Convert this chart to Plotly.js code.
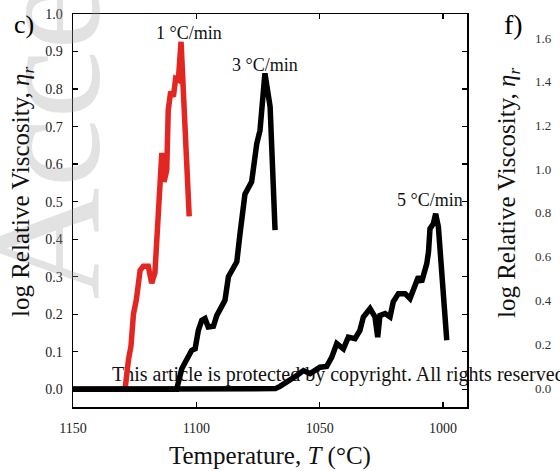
<!DOCTYPE html>
<html>
<head>
<meta charset="utf-8">
<script src="https://cdn.plot.ly/plotly-3.0.1.min.js"></script>
<style>
  html, body { margin: 0; padding: 0; background: #fff; }
  #chart { width: 560px; height: 471px; }
</style>
</head>
<body>
<div id="chart"></div>
<script>
// Relative viscosity on cooling at three rates
const rate1_T = [1150, 1128.9, 1127.5, 1126.5, 1125.5, 1124.3, 1122.8, 1121.5, 1119.5, 1118.1, 1116.8, 1116.1, 1115.3, 1114.0, 1113.1, 1112.0, 1111.4, 1110.4, 1109.3, 1108.4, 1107.3, 1106.2, 1102.9];
const rate1_eta = [0, 0, 0.08, 0.115, 0.2, 0.24, 0.317, 0.328, 0.328, 0.283, 0.31, 0.40, 0.52, 0.63, 0.553, 0.584, 0.744, 0.793, 0.78, 0.828, 0.824, 0.926, 0.461];

const rate3_T = [1150, 1108.0, 1105.9, 1103.9, 1101.9, 1100.5, 1099.2, 1097.8, 1096.5, 1095.2, 1093.1, 1091.7, 1089.7, 1088.4, 1087.0, 1085.0, 1083.6, 1082.3, 1080.3, 1077.6, 1075.5, 1074.2, 1072.9, 1072.2, 1070.1, 1068.1];
const rate3_eta = [0, 0, 0.055, 0.077, 0.104, 0.108, 0.157, 0.184, 0.189, 0.166, 0.168, 0.197, 0.219, 0.237, 0.3, 0.326, 0.34, 0.415, 0.52, 0.553, 0.655, 0.69, 0.789, 0.842, 0.753, 0.424];

const rate5_T = [1150, 1072, 1068, 1066.1, 1062.0, 1059.3, 1056.6, 1053.9, 1049.9, 1047.2, 1045.1, 1043.1, 1040.4, 1038.4, 1035.7, 1033.7, 1032.3, 1029.6, 1027.6, 1026.5, 1025.6, 1023.5, 1021.5, 1020.2, 1018.1, 1015.4, 1013.4, 1011.4, 1010.0, 1008.7, 1006.6, 1005.9, 1005.3, 1003.9, 1003.0, 1001.9, 998.5];
const rate5_eta = [0, 0, 0.002, 0.008, 0.024, 0.037, 0.05, 0.042, 0.059, 0.061, 0.086, 0.122, 0.108, 0.139, 0.135, 0.157, 0.193, 0.215, 0.193, 0.139, 0.197, 0.202, 0.193, 0.233, 0.255, 0.255, 0.242, 0.273, 0.3, 0.286, 0.335, 0.366, 0.428, 0.442, 0.468, 0.433, 0.131];

const rateLabels = ['1 °C/min', '3 °C/min', '5 °C/min'];
const nextPanelTicks = ['1.6', '1.4', '1.2', '1.0', '0.8', '0.6', '0.4', '0.2', '0.0'];

const SERIF = "'Liberation Serif', 'Times New Roman', serif";

// plot box in pixels
const L = 73, R = 467, T = 14, B = 407;
const px = x => (x - L) / (R - L);
const py = y => (B - y) / (B - T);

// centred text placed in page pixels
function pageText(x, y, text, size, color, extra) {
  return Object.assign({
    xref: 'paper', yref: 'paper', x: px(x), y: py(y), text: text, showarrow: false,
    xanchor: 'center', yanchor: 'middle',
    font: { family: SERIF, size: size, color: color }
  }, extra || {});
}

const traces = [
  {
    x: [1134.2], y: [0.035], mode: 'text', type: 'scatter',
    text: ['This article is protected by copyright. All rights reserved'],
    textposition: 'middle right', cliponaxis: false, hoverinfo: 'skip',
    textfont: { family: SERIF, size: 20, color: '#111' }, showlegend: false
  },
  { x: rate1_T, y: rate1_eta, mode: 'lines', type: 'scatter', line: { color: '#e32622', width: 5.5 }, showlegend: false },
  { x: rate3_T, y: rate3_eta, mode: 'lines', type: 'scatter', line: { color: '#000', width: 5.5 }, showlegend: false },
  { x: rate5_T, y: rate5_eta, mode: 'lines', type: 'scatter', line: { color: '#000', width: 5.5 }, showlegend: false }
];

const rateFont = { family: SERIF, size: 18, color: '#111' };

const annotations = [
  // watermark
  pageText(45, 302, 'Accepted', 155, 'rgba(160,160,160,0.3)', { textangle: -90, yanchor: 'bottom' }),
  { xref: 'x', yref: 'y', x: 1103, y: 0.949, text: rateLabels[0], showarrow: false,
    xanchor: 'center', yanchor: 'middle', font: rateFont },
  { xref: 'x', yref: 'y', x: 1072.2, y: 0.864, text: rateLabels[1], showarrow: false,
    xanchor: 'center', yanchor: 'middle', font: rateFont },
  { xref: 'x', yref: 'y', x: 1005.3, y: 0.504, text: rateLabels[2], showarrow: false,
    xanchor: 'center', yanchor: 'middle', font: rateFont },
  pageText(24, 25, 'c)', 26, '#000'),
  pageText(513, 25, 'f)', 28, '#000'),
  pageText(22, 192, 'log Relative Viscosity, <i>η<sub>r</sub></i>', 25, '#111', { textangle: -90 }),
  pageText(508, 192, 'log Relative Viscosity, <i>η<sub>r</sub></i>', 25, '#111', { textangle: -90 }),
  pageText(270, 456, 'Temperature, <i>T</i> (°C)', 25, '#111')
];

// tick labels of the neighbouring panel
nextPanelTicks.forEach((t, i) => {
  annotations.push(pageText(543, 38 + i * 43.75, t, 13, '#333'));
});

const layout = {
  width: 560, height: 471,
  margin: { l: L, r: 560 - R, t: T, b: 471 - B, pad: 0 },
  paper_bgcolor: '#fff', plot_bgcolor: '#fff',
  showlegend: false,
  xaxis: {
    range: [1150, 990.3], tickvals: [1150, 1100, 1050, 1000],
    ticks: 'inside', ticklen: 5, tickwidth: 1.3, tickcolor: '#000',
    showline: true, linecolor: '#000', linewidth: 1.5, mirror: 'ticks',
    showgrid: false, zeroline: false,
    tickfont: { family: SERIF, size: 14, color: '#222' }, ticklabelstandoff: 8
  },
  yaxis: {
    range: [-0.047, 1.0], tickvals: [0, 0.1, 0.2, 0.3, 0.4, 0.5, 0.6, 0.7, 0.8, 0.9, 1.0],
    tickformat: '.1f',
    ticks: 'inside', ticklen: 5, tickwidth: 1.3, tickcolor: '#000',
    showline: true, linecolor: '#000', linewidth: 1.5, mirror: 'ticks',
    showgrid: false, zeroline: false,
    tickfont: { family: SERIF, size: 14, color: '#222' }, ticklabelstandoff: 6
  },
  annotations: annotations
};

Plotly.newPlot('chart', traces, layout, { displayModeBar: false, staticPlot: true });
</script>
</body>
</html>
